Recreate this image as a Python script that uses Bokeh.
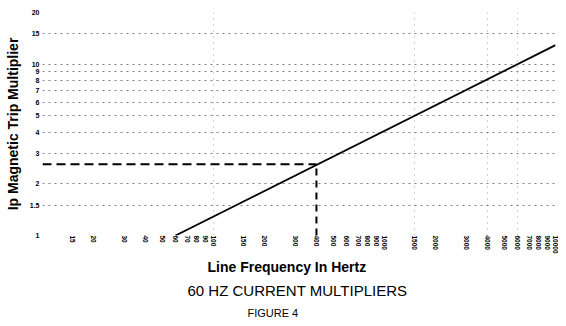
from bokeh.plotting import figure
from bokeh.models import FixedTicker, Title, Range1d
from bokeh.embed import file_html
from bokeh.resources import INLINE

# ---- data ----
x_ticks = [15, 20, 30, 40, 50, 60, 70, 80, 90, 100,
           150, 200, 300, 400, 500, 600, 700, 800, 900, 1000,
           1500, 2000, 3000, 4000, 5000, 6000, 7000, 8000, 9000, 10000]
x_tick_labels = [str(v) for v in x_ticks]
y_ticks = [1, 1.5, 2, 3, 4, 5, 6, 7, 8, 9, 10, 15, 20]
y_tick_labels = ["1", "1.5", "2", "3", "4", "5", "6", "7", "8", "9", "10", "15", "20"]
x_grid_ticks = [100, 1500, 4000, 6000]

line_freq = [60, 10000]
line_mult = [1.0, 12.9]
marker_freq = 400
marker_mult = 2.6

x_title = "Line Frequency In Hertz"
y_title = "Ip Magnetic Trip Multiplier"
chart_title = "60 HZ CURRENT MULTIPLIERS"
fig_caption = "FIGURE 4"

X_MIN, X_MAX = 10, 10000
Y_MIN, Y_MAX = 1, 20

p = figure(width=558, height=318, x_axis_type="log", y_axis_type="log",
           x_range=Range1d(X_MIN, X_MAX), y_range=Range1d(Y_MIN, Y_MAX),
           output_backend="svg", toolbar_location=None,
           min_border_left=42, min_border_right=3, min_border_top=12,
           min_border_bottom=82)
p.outline_line_color = None
p.background_fill_color = "white"
p.border_fill_color = "white"

# axes
p.xaxis.ticker = FixedTicker(ticks=x_ticks, minor_ticks=[])
p.xaxis.major_label_overrides = {t: l for t, l in zip(x_ticks, x_tick_labels)}
p.xaxis.major_label_orientation = "vertical"
p.yaxis.ticker = FixedTicker(ticks=y_ticks, minor_ticks=[])
p.yaxis.major_label_overrides = {t: l for t, l in zip(y_ticks, y_tick_labels)}
for ax in (p.xaxis[0], p.yaxis[0]):
    ax.axis_line_color = None
    ax.major_tick_line_color = None
    ax.minor_tick_line_color = None
    ax.major_tick_out = 0
    ax.major_tick_in = 0
    ax.major_label_text_font = "Liberation Sans"
    ax.major_label_text_font_style = "bold"
    ax.major_label_text_color = "black"
p.xaxis.major_label_text_font_size = "6.5px"
p.yaxis.major_label_text_font_size = "7px"
p.xaxis.major_label_standoff = 0
p.yaxis.major_label_standoff = 3
p.yaxis.axis_label = y_title
p.yaxis.axis_label_standoff = 6
p.yaxis.axis_label_text_font = "Liberation Sans"
p.yaxis.axis_label_text_font_style = "bold"
p.yaxis.axis_label_text_font_size = "14px"
p.yaxis.axis_label_text_color = "black"

# grids
p.ygrid.ticker = FixedTicker(ticks=y_ticks)
p.ygrid.grid_line_color = "black"
p.ygrid.grid_line_dash = "2 4"
p.ygrid.grid_line_alpha = 0.5
p.xgrid.ticker = FixedTicker(ticks=x_grid_ticks)
p.xgrid.grid_line_color = "black"
p.xgrid.grid_line_dash = "1 5"
p.xgrid.grid_line_alpha = 0.35

# curve
p.line(line_freq, line_mult, line_color="black", line_width=1.8)

# 400 Hz marker
p.line([X_MIN, marker_freq], [marker_mult, marker_mult],
       line_color="black", line_width=2, line_dash="9 5")
p.line([marker_freq, marker_freq], [Y_MIN, marker_mult],
       line_color="black", line_width=2, line_dash="7 5")

# texts below the frame
p.add_layout(Title(text=x_title, align="left", offset=165, standoff=0,
                   text_font="Liberation Sans", text_font_style="bold",
                   text_font_size="14px", text_color="black"), "below")
p.add_layout(Title(text=chart_title, align="left", offset=145, standoff=11,
                   text_font="Liberation Sans", text_font_style="normal",
                   text_font_size="15px", text_color="black"), "below")
p.add_layout(Title(text=fig_caption, align="left", offset=205, standoff=0,
                   text_font="Liberation Sans", text_font_style="normal",
                   text_font_size="11px", text_color="black"), "below")

open("out.html", "w").write(file_html(p, INLINE))
